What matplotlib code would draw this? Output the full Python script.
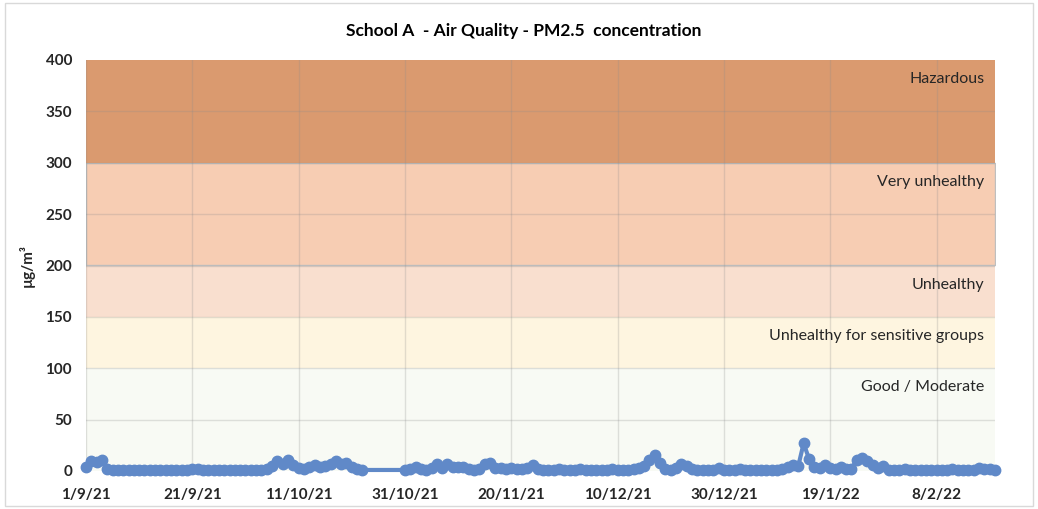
import numpy as np
import pandas as pd
import matplotlib
matplotlib.use("Agg")
import matplotlib.pyplot as plt
from matplotlib.patches import Rectangle

plt.rcParams['font.family'] = ['Lato', 'DejaVu Sans']

nan = np.nan

# daily PM2.5 readings (ug/m3), 1/9/21 .. 19/2/22, nan = no data
sep = [4, 10, 9, 11, 2, 1, 1, 1, 1, 1, 1, 1, 1, 1, 1, 1, 1, 1, 1, 1,
       2, 2, 1, 1, 1, 1, 1, 1, 1, 1]
oct_ = [1, 1, 1, 1, 2, 5, 10, 7, 11, 6, 3, 2, 4, 6, 4, 5, 7, 10, 7, 8,
        4, 2, 1, nan, nan, nan, nan, nan, nan, nan, 1]
nov = [2, 4, 2, 1, 3, 7, 3, 7, 4, 4, 4, 2, 1, 2, 7, 8, 3, 3, 2, 3,
       2, 2, 3, 6, 2, 1, 1, 1, 2, 1]
dec = [1, 1, 2, 1, 1, 1, 1, 1, 2, 1, 1, 1, 2, 3, 5, 11, 16, 8, 2, 1,
       3, 7, 5, 2, 1, 1, 1, 1, 3, 1, 1]
jan = [1, 2, 1, 1, 1, 1, 1, 1, 1, 2, 4, 6, 5, 27, 12, 4, 3, 6, 3, 2,
       4, 2, 2, 11, 13, 10, 6, 3, 5, 1, 1]
feb = [1, 2, 1, 1, 1, 1, 1, 1, 1, 1, 2, 1, 1, 1, 1, 3, 2, 2, 1]

pm25 = np.array(sep + oct_ + nov + dec + jan + feb, dtype=float)
dates = pd.date_range("2021-09-01", periods=len(pm25), freq="D")

# AQI bands
band_names = ["Good / Moderate", "Unhealthy for sensitive groups", "Unhealthy",
              "Very unhealthy", "Hazardous"]
band_low = [0, 100, 150, 200, 300]
band_high = [100, 150, 200, 300, 400]
band_colors = ["#F8FAF4", "#FEF5E0", "#F9DFCF", "#F7CDB3", "#DA9A6F"]

tick_dates = ["2021-09-01", "2021-09-21", "2021-10-11", "2021-10-31", "2021-11-20",
              "2021-12-10", "2021-12-30", "2022-01-19", "2022-02-08"]
tick_labels = ["1/9/21", "21/9/21", "11/10/21", "31/10/21", "20/11/21",
               "10/12/21", "30/12/21", "19/1/22", "8/2/22"]

fig = plt.figure(figsize=(10.38, 5.09), dpi=100)
fig.patches.append(Rectangle((5 / 1038, 3 / 509), 1028 / 1038, 503 / 509,
                             transform=fig.transFigure, fill=False,
                             edgecolor="#D9D9D9", linewidth=1))
ax = fig.add_axes([86 / 1038, 38 / 509, 909 / 1038, 411 / 509])

x0, x1 = dates[0], dates[-1]
for name, lo, hi, col in zip(band_names, band_low, band_high, band_colors):
    edge = "#BFBFBF" if name == "Very unhealthy" else "none"
    ax.fill_between([x0, x1], lo, hi, color=col, edgecolor=edge, linewidth=1, zorder=1)
    ax.text(x1 - pd.Timedelta(days=2), hi - 18.5, name, ha="right", va="center",
            fontsize=11.5, color="#262626", zorder=4)

# grid on top of the bands
for t in pd.to_datetime(tick_dates):
    ax.axvline(t, color="#8C8C8C", alpha=0.25, linewidth=1, zorder=2)
for y in range(50, 400, 50):
    ax.axhline(y, color="#8C8C8C", alpha=0.25, linewidth=1, zorder=2)

ok = ~np.isnan(pm25)
ax.plot(dates[ok], pm25[ok], color="#6089C8", linewidth=3, marker="o",
        markersize=7.5, zorder=5, clip_on=False)

ax.set_xlim(x0, x1)
ax.set_ylim(0, 400)
ax.set_yticks(range(0, 401, 50))
ax.set_xticks(pd.to_datetime(tick_dates))
ax.set_xticklabels(tick_labels)
ax.tick_params(axis="both", length=0, labelsize=11, colors="#262626")
ax.tick_params(axis="x", pad=12)
ax.tick_params(axis="y", pad=10)
for lab in ax.get_xticklabels() + ax.get_yticklabels():
    lab.set_fontweight("bold")
for s in ax.spines.values():
    s.set_visible(False)

ax.set_ylabel("µg/m³", fontsize=11, fontweight="bold", color="#262626", labelpad=8)
fig.text(524 / 1038, 478 / 509, "School A  - Air Quality - PM2.5  concentration",
         ha="center", va="center", fontsize=12.5, fontweight="bold", color="#000000")

fig.savefig("out.png", dpi=100)
